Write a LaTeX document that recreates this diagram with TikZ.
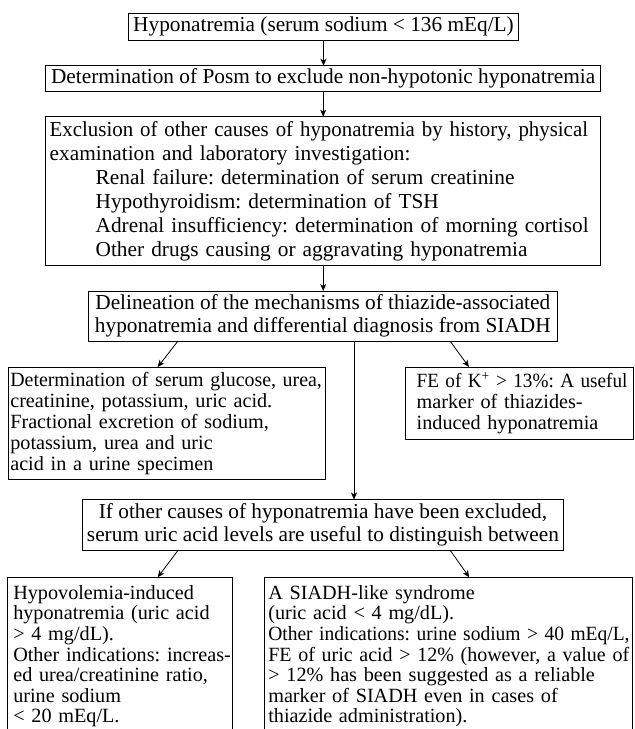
\documentclass[tikz,border=0pt]{standalone}
\usepackage{fontspec}
\usepackage{graphicx}
\setmainfont{Liberation Serif}
\usetikzlibrary{arrows.meta}
\newcommand{\Lx}[1]{\mbox{#1}}
\newcommand{\Sq}[2]{\scalebox{#1}[1]{#2}}
\begin{document}
\frenchspacing
\begin{tikzpicture}[x=1pt,y=-1pt,
  box/.style={draw, line width=0.9pt, inner sep=0pt, outer sep=0pt},
  big/.style={font=\frenchspacing\fontsize{21.3}{23}\selectfont},
  small/.style={font=\frenchspacing\fontsize{20.2}{21}\selectfont},
  arr/.style={-{Stealth[length=7pt,width=6pt,inset=2pt]}, line width=0.8pt}]
\clip (0,0) rectangle (635,729);
\fill[white] (0,0) rectangle (635,729);

\node[box,big,minimum width=389.6pt,minimum height=26.7pt] (b1) at (323.5,26.7)
  {Hyponatremia (serum sodium < 136 mEq/L)};
\node[box,big,minimum width=555pt,minimum height=25.3pt] (b2) at (323.2,78.35)
  {Determination of Posm to exclude non-hypotonic hyponatremia};
\node[box,font=\frenchspacing\fontsize{21.3}{24}\selectfont,inner xsep=4pt,text width=547pt,align=left,minimum height=149pt] (b3) at (323.2,191.2)
  {\Lx{\Sq{0.98}{Exclusion of other causes of hyponatremia by history, physical}}\\
   \Lx{examination and laboratory investigation:}\\
   \Lx{\hspace*{46pt}Renal failure: determination of serum creatinine}\\
   \Lx{\hspace*{46pt}Hypothyroidism: determination of TSH}\\
   \Lx{\hspace*{46pt}Adrenal insufficiency: determination of morning cortisol}\\
   \Lx{\hspace*{46pt}Other drugs causing or aggravating hyponatremia}};
\node[box,big,align=center,minimum width=469pt,minimum height=50pt] (b4) at (322.8,316)
  {Delineation of the mechanisms of thiazide-associated\\
   hyponatremia and differential diagnosis from SIADH};
\node[box,small,inner xsep=2pt,text width=313.4pt,align=left,minimum height=112.3pt] (b5l) at (167,423.2)
  {\Lx{\Sq{0.985}{Determination of serum glucose, urea,}}\\
   \Lx{creatinine, potassium, uric acid.}\\
   \Lx{Fractional excretion of sodium,}\\
   \Lx{potassium, urea and uric}\\
   \Lx{acid in a urine specimen}};
\node[box,small,inner xsep=1pt,text width=225.3pt,align=left,minimum height=72pt] (b5r) at (519.35,403)
  {\Lx{\hspace*{10pt}\Sq{0.95}{FE of K\textsuperscript{+} > 13\%: A useful}}\\
   \Lx{\hspace*{10pt}marker of thiazides-}\\
   \Lx{\hspace*{10pt}induced hyponatremia}};
\node[box,big,align=center,minimum width=480.6pt,minimum height=50.5pt] (b6) at (323,524.75)
  {If other causes of hyponatremia have been excluded,\\
   serum uric acid levels are useful to distinguish between};
\node[box,font=\frenchspacing\fontsize{20.2}{20.6}\selectfont,anchor=north west,inner xsep=2pt,inner ysep=8pt,text width=221pt,align=left,text depth=250pt] (b7l) at (7.3,577.3)
  {\Lx{\hspace*{4pt}Hypovolemia-induced}\\
   \Lx{\hspace*{4pt}hyponatremia (uric acid}\\
   \Lx{\hspace*{4pt}> 4 mg/dL).}\\
   \Lx{\hspace*{4pt}Other indications: increas-}\\
   \Lx{\hspace*{4pt}ed urea/creatinine ratio,}\\
   \Lx{\hspace*{4pt}urine sodium}\\
   \Lx{\hspace*{4pt}< 20 mEq/L.}};
\node[box,font=\frenchspacing\fontsize{20.2}{20.6}\selectfont,anchor=north west,inner xsep=2pt,inner ysep=8pt,text width=364pt,align=left,text depth=250pt] (b7r) at (264.3,577.3)
  {\Lx{\hspace*{2pt}A SIADH-like syndrome}\\
   \Lx{\hspace*{2pt}(uric acid < 4 mg/dL).}\\
   \Lx{\hspace*{2pt}\Sq{0.965}{Other indications: urine sodium > 40 mEq/L,}}\\
   \Lx{\hspace*{2pt}\Sq{0.99}{FE of uric acid > 12\% (however, a value of}}\\
   \Lx{\hspace*{2pt}> 12\% has been suggested as a reliable}\\
   \Lx{\hspace*{2pt}marker of SIADH even in cases of}\\
   \Lx{\hspace*{2pt}thiazide administration).}};

\draw[arr] (b1.south) -- (b1.south |- b2.north);
\draw[arr] (b2.south) -- (b2.south |- b3.north);
\draw[arr] (b3.south) -- (b3.south |- b4.north);
\draw[arr] ([xshift=-144.8pt]b4.south) -- ([xshift=-9.3pt]b5l.north);
\draw[arr] ([xshift=31.2pt]b4.south) -- ([xshift=31.2pt]b4.south |- b6.north);
\draw[arr] ([xshift=127.2pt]b4.south) -- ([xshift=-50.35pt]b5r.north);
\draw[arr] ([xshift=-144.7pt]b6.south) -- ([xshift=150.4pt]b7l.north west);
\draw[arr] ([xshift=127pt]b6.south) -- ([xshift=205pt]b7r.north west);
\end{tikzpicture}
\end{document}
